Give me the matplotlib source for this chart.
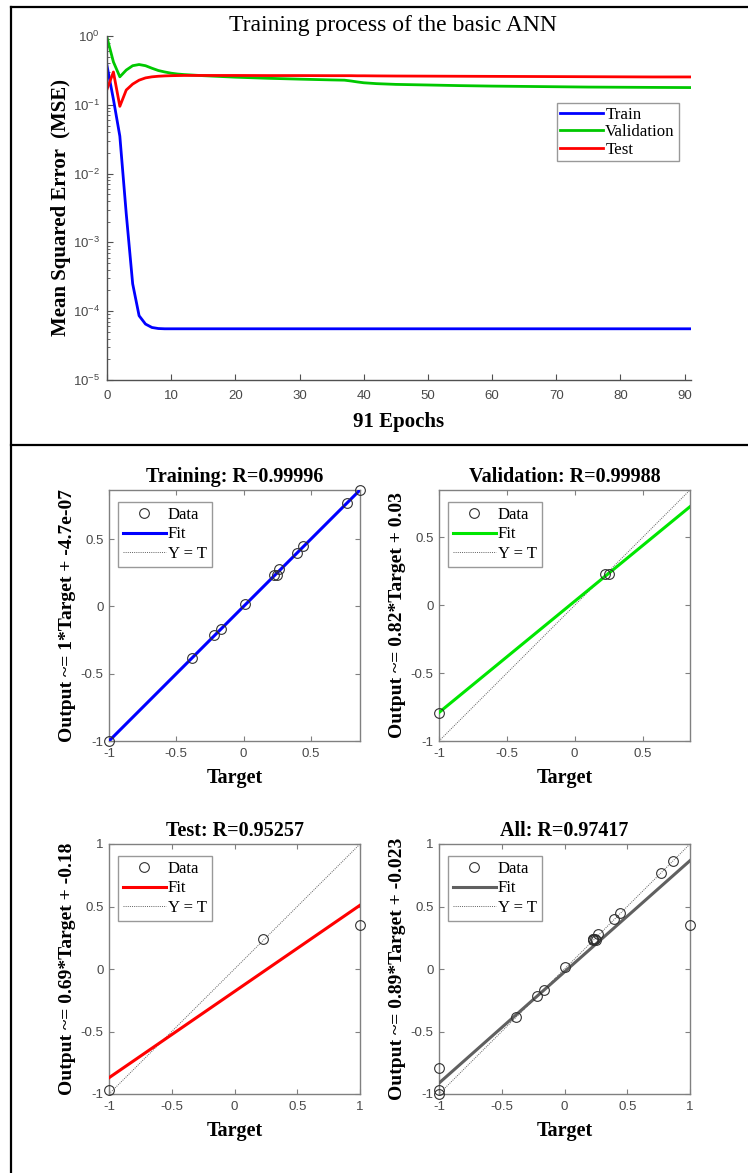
import matplotlib
matplotlib.use('Agg')
import matplotlib.pyplot as plt
from matplotlib.lines import Line2D
from matplotlib.ticker import LogLocator, LogFormatterSciNotation, NullFormatter, FixedLocator

plt.rcParams['font.family'] = ['Liberation Serif', 'DejaVu Serif']
plt.rcParams['mathtext.fontset'] = 'custom'
plt.rcParams['mathtext.rm'] = 'Liberation Sans'
plt.rcParams['mathtext.it'] = 'Liberation Sans:italic'
plt.rcParams['mathtext.bf'] = 'Liberation Sans:bold'

# ---------------- data: training performance ----------------
epochs = [0, 1, 2, 3, 4, 5, 6, 7, 8, 9, 10, 11, 12, 15, 20, 25, 30, 35, 37, 38, 39,
          40, 42, 45, 50, 55, 60, 65, 70, 75, 80, 85, 91]
mse_train = [0.37, 0.12, 0.035, 0.0026, 2.5e-4, 8.6e-5, 6.5e-5, 5.8e-5, 5.6e-5, 5.55e-5,
             5.55e-5, 5.55e-5, 5.55e-5, 5.55e-5, 5.55e-5, 5.55e-5, 5.55e-5, 5.55e-5,
             5.55e-5, 5.55e-5, 5.55e-5, 5.55e-5, 5.55e-5, 5.55e-5, 5.55e-5, 5.55e-5,
             5.55e-5, 5.55e-5, 5.55e-5, 5.55e-5, 5.55e-5, 5.55e-5, 5.55e-5]
mse_val = [0.95, 0.42, 0.255, 0.32, 0.37, 0.385, 0.37, 0.34, 0.315, 0.30, 0.288, 0.28,
           0.275, 0.265, 0.252, 0.243, 0.236, 0.230, 0.228, 0.222, 0.215, 0.209, 0.203,
           0.198, 0.194, 0.190, 0.187, 0.185, 0.183, 0.181, 0.180, 0.179, 0.178]
mse_test = [0.168, 0.30, 0.095, 0.164, 0.20, 0.228, 0.246, 0.255, 0.260, 0.263, 0.265,
            0.266, 0.267, 0.267, 0.267, 0.266, 0.266, 0.265, 0.265, 0.265, 0.264, 0.264,
            0.263, 0.262, 0.261, 0.260, 0.259, 0.258, 0.257, 0.256, 0.255, 0.254, 0.254]
perf_names = ['Train', 'Validation', 'Test']
n_epochs = 91

# ---------------- data: regression ----------------
train_target = [-1.0, -0.383, -0.223, -0.165, 0.007, 0.227, 0.245, 0.265, 0.394, 0.443, 0.766, 0.862]
train_output = [-1.0, -0.380, -0.215, -0.165, 0.018, 0.237, 0.237, 0.280, 0.398, 0.448, 0.768, 0.866]
val_target = [-1.0, 0.224, 0.252]
val_output = [-0.79, 0.234, 0.234]
test_target = [-1.0, 0.230, 1.0]
test_output = [-0.97, 0.240, 0.355]
all_target = train_target + val_target + test_target
all_output = train_output + val_output + test_output

reg_titles = ['Training: R=0.99996', 'Validation: R=0.99988', 'Test: R=0.95257', 'All: R=0.97417']
reg_ylabels = ['Output ~= 1*Target + -4.7e-07', 'Output ~= 0.82*Target + 0.03',
               'Output ~= 0.69*Target + -0.18', 'Output ~= 0.89*Target + -0.023']
fit_slopes = [1.0, 0.82, 0.69, 0.89]
fit_intercepts = [-4.7e-07, 0.03, -0.18, -0.023]
axis_limits = [(-1.0, 0.865), (-1.0, 0.85), (-1.0, 1.0), (-1.0, 1.0)]
reg_ticks = [-1, -0.5, 0, 0.5, 1]
reg_tick_labels = ['-1', '-0.5', '0', '0.5', '1']

# ---------------- figure ----------------
W, H = 748, 1173
fig = plt.figure(figsize=(W / 100, H / 100), dpi=100)


def rect(l, t, r, b):
    return [l / W, 1 - b / H, (r - l) / W, (b - t) / H]


TICK_COLOR = '#484848'

# frame lines (table borders)
for (x0, y0, x1, y1) in [(10.5, 7, 10.5, 1173), (10.5, 7, 748, 7), (10.5, 445, 748, 445)]:
    fig.add_artist(Line2D([x0 / W, x1 / W], [1 - y0 / H, 1 - y1 / H], color='black',
                          lw=1.6, transform=fig.transFigure))

# ---------------- top: performance ----------------
ax = fig.add_axes(rect(107, 36, 691, 380))
perf_colors = ['#0000ff', '#00c800', '#ff0000']
for vals, name, c in zip([mse_train, mse_val, mse_test], perf_names, perf_colors):
    ax.plot(epochs, vals, color=c, lw=2.0, label=name)
ax.set_yscale('log')
ax.set_ylim(1e-5, 1e0)
ax.set_xlim(0, n_epochs)
ax.set_xticks(range(0, 91, 10))
ax.yaxis.set_major_locator(LogLocator(base=10, numticks=10))
ax.yaxis.set_major_formatter(LogFormatterSciNotation())
ax.yaxis.set_minor_locator(LogLocator(base=10, subs=range(2, 10), numticks=20))
ax.yaxis.set_minor_formatter(NullFormatter())
for s in ['top', 'right']:
    ax.spines[s].set_visible(False)
for s in ['left', 'bottom']:
    ax.spines[s].set_color('#505050')
    ax.spines[s].set_linewidth(1.0)
ax.tick_params(direction='in', length=4, width=0.8, color='#505050', labelcolor=TICK_COLOR,
               labelsize=9.5, labelfontfamily='Liberation Sans')
ax.tick_params(axis='x', pad=7)
ax.tick_params(axis='y', pad=5)
ax.tick_params(which='minor', direction='in', length=2, width=0.6, color='#505050')
ax.set_title('Training process of the basic ANN', fontsize=17, pad=0, x=0.49)
ax.set_xlabel('%d Epochs' % n_epochs, fontsize=15, fontweight='bold')
ax.xaxis.set_label_coords(0.5, -0.093)
ax.xaxis.label.set_va('top')
ax.set_ylabel('Mean Squared Error  (MSE)', fontsize=15, fontweight='bold')
ax.yaxis.set_label_coords(-0.062, 0.5)
leg = ax.legend(loc='upper left', bbox_to_anchor=(0.77, 0.805), fontsize=12.2, frameon=True,
                fancybox=False, edgecolor='#808080', handlelength=2.5, handletextpad=0.15,
                labelspacing=0.08, borderpad=0.22, borderaxespad=0)
leg.get_frame().set_linewidth(1.0)

# ---------------- regression plots ----------------
reg_rects = [rect(109, 490, 360, 741), rect(439, 490, 690, 741),
             rect(109, 844, 360, 1094), rect(439, 844, 690, 1094)]
fit_colors = ['#0000ff', '#00e600', '#ff0000', '#606060']
reg_data = [(train_target, train_output), (val_target, val_output),
            (test_target, test_output), (all_target, all_output)]

for i in range(4):
    a = fig.add_axes(reg_rects[i])
    t, y = reg_data[i]
    lo, hi = axis_limits[i]
    a.plot(t, y, linestyle='none', marker='o', markersize=7, markerfacecolor='none',
           markeredgecolor='#303030', markeredgewidth=0.8, label='Data', zorder=4,
           clip_on=False)
    a.axline((0, fit_intercepts[i]), slope=fit_slopes[i], color=fit_colors[i], lw=2.2,
             label='Fit', zorder=3)
    a.axline((0, 0), slope=1, color='#606060', lw=0.7, linestyle=(0, (1, 1.2)),
             label='Y = T', zorder=2)
    a.set_xlim(lo, hi)
    a.set_ylim(lo, hi)
    a.xaxis.set_major_locator(FixedLocator(reg_ticks))
    a.yaxis.set_major_locator(FixedLocator(reg_ticks))
    a.set_xticklabels(reg_tick_labels)
    a.set_yticklabels(reg_tick_labels)
    for s in a.spines.values():
        s.set_color('#808080')
        s.set_linewidth(1.0)
    a.tick_params(direction='in', length=3.5, width=0.8, color='#808080', top=True, right=True,
                  labelcolor=TICK_COLOR, labelsize=9.5, labelfontfamily='Liberation Sans')
    a.tick_params(axis='x', pad=5)
    a.tick_params(axis='y', pad=4)
    a.set_title(reg_titles[i], fontsize=14.5, fontweight='bold', pad=6)
    a.set_xlabel('Target', fontsize=14.5, fontweight='bold')
    a.xaxis.set_label_coords(0.5, -0.107)
    a.xaxis.label.set_va('top')
    a.set_ylabel(reg_ylabels[i], fontsize=14, fontweight='bold')
    a.yaxis.set_label_coords(-0.131, 0.5)
    lg = a.legend(loc='upper left', bbox_to_anchor=(0.035, 0.953), fontsize=12, frameon=True,
                  fancybox=False, edgecolor='#808080', numpoints=1, handlelength=2.6,
                  handletextpad=0.1, labelspacing=0.22, borderpad=0.3, borderaxespad=0)
    lg.get_frame().set_linewidth(1.0)

fig.savefig('out.png', dpi=100)
